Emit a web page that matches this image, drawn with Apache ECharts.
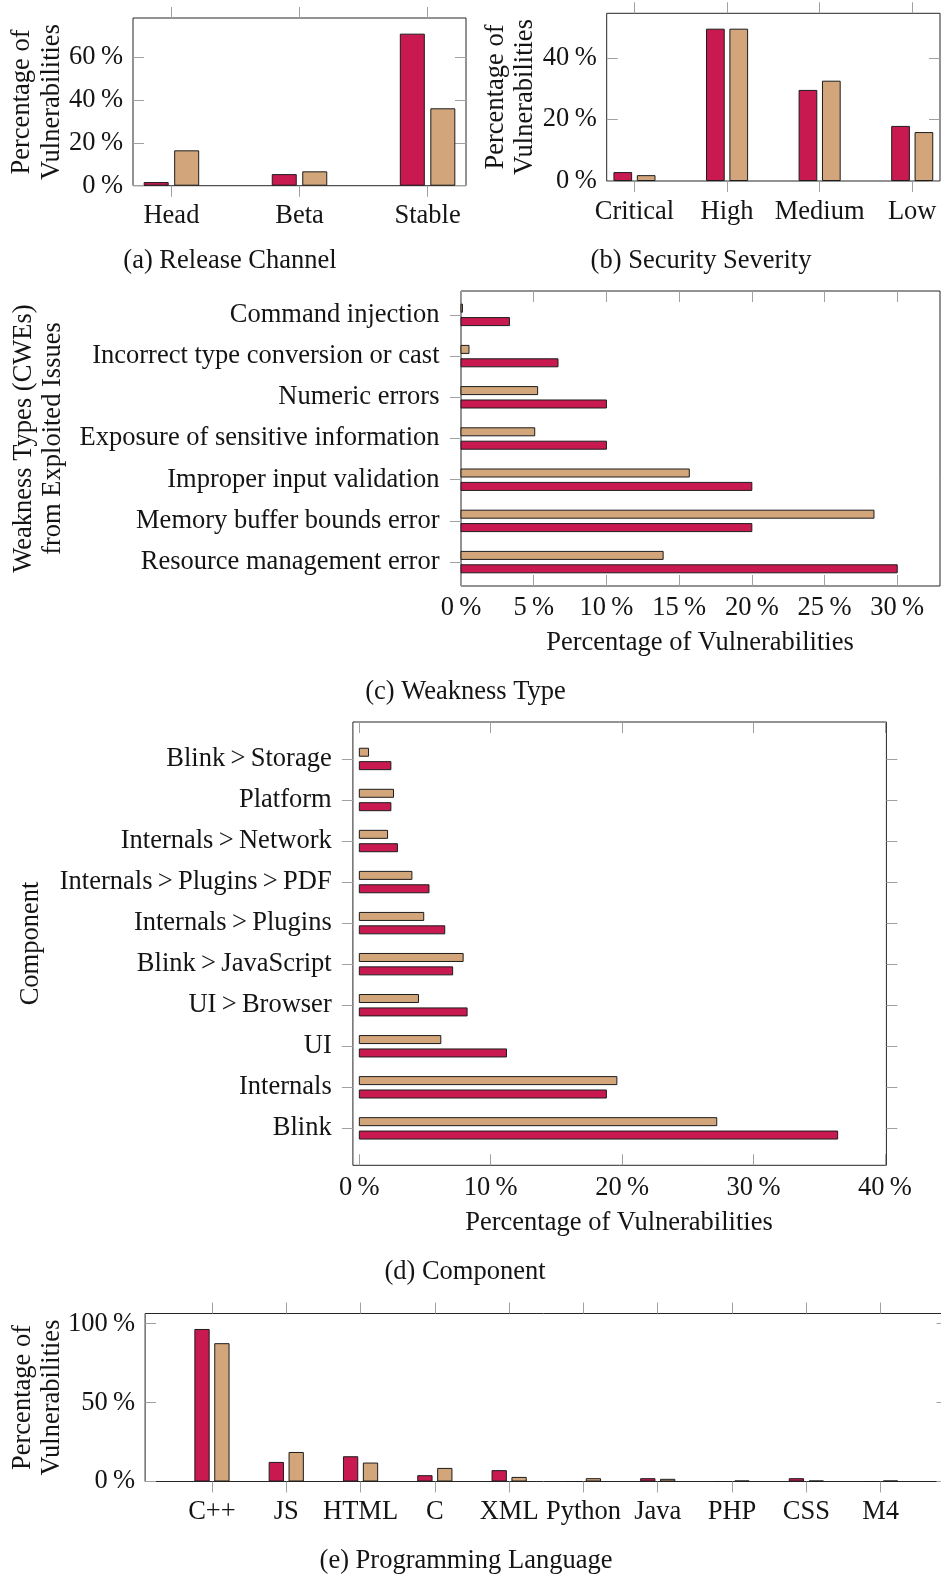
<!DOCTYPE html>
<html>
<head>
<meta charset="utf-8">
<script src="https://cdn.jsdelivr.net/npm/echarts@6/dist/echarts.min.js"></script>
<style>
  html, body { margin: 0; padding: 0; background: #ffffff; }
  #chart { width: 941px; height: 1575px; }
</style>
</head>
<body>
<div id="chart"></div>
<script>
// (a) Release channel
const channelCats = ['Head', 'Beta', 'Stable'];
const channelExploited = [1.7, 5.4, 70.9];
const channelAll = [16.5, 6.7, 36.1];
const channelTicks = [0, 20, 40, 60];

// (b) Security severity
const severityCats = ['Critical', 'High', 'Medium', 'Low'];
const severityExploited = [2.9, 49.5, 29.6, 17.9];
const severityAll = [1.9, 49.5, 32.6, 15.9];
const severityTicks = [0, 20, 40];

// (c) Weakness type, listed bottom to top
const weaknessCats = ['Resource management error', 'Memory buffer bounds error', 'Improper input validation',
  'Exposure of sensitive information', 'Numeric errors', 'Incorrect type conversion or cast', 'Command injection'];
const weaknessExploited = [30, 20, 20, 10, 10, 6.67, 3.33];
const weaknessAll = [13.9, 28.4, 15.7, 5.07, 5.27, 0.55, 0.1];
const weaknessTicks = [0, 5, 10, 15, 20, 25, 30];

// (d) Component, listed bottom to top
const componentCats = ['Blink', 'Internals', 'UI', 'UI>Browser', 'Blink>JavaScript', 'Internals>Plugins',
  'Internals>Plugins>PDF', 'Internals>Network', 'Platform', 'Blink>Storage'];
const componentExploited = [36.4, 18.8, 11.2, 8.2, 7.1, 6.5, 5.3, 2.9, 2.4, 2.4];
const componentAll = [27.2, 19.6, 6.2, 4.5, 7.9, 4.9, 4.0, 2.15, 2.6, 0.7];
const componentTicks = [0, 10, 20, 30, 40];

// (e) Programming language
const languageCats = ['C++', 'JS', 'HTML', 'C', 'XML', 'Python', 'Java', 'PHP', 'CSS', 'M4'];
const languageExploited = [96.6, 12.4, 16.0, 4.0, 7.2, 0, 2.1, 0, 2.1, 0];
const languageAll = [87.6, 18.7, 12.0, 8.6, 2.9, 2.1, 1.7, 0.6, 0.6, 0.6];
const languageTicks = [0, 50, 100];

const RED = '#C81A50';
const TAN = '#D2A67A';
const EDGE = '#1c1c1c';
const FRAME = '#262626';
const TICK = '#a0a0a0';
const TXT = '#141414';
const FONT = 'Liberation Serif';
const SIZE = 26.5;

const pct = v => v + '\u2009%';
const indices = arr => arr.map((_, i) => i);
// component paths get a little air around the ">" separator
const namer = cats => v => cats[Math.round(v)].replace(/>/g, '\u2009>\u2009');

const grids = [], xAxes = [], yAxes = [], series = [];

function axisDef(gi, pos, s, withLabels) {
  return {
    type: 'value', gridIndex: gi, position: pos, min: s.min, max: s.max,
    axisLine: { show: false, onZero: false },
    splitLine: { show: false },
    axisTick: { show: true, inside: s.inside, length: 11, customValues: s.ticks,
      lineStyle: { color: TICK, width: 1 } },
    axisLabel: { show: withLabels, customValues: s.ticks, formatter: s.format, margin: s.margin,
      color: TXT, fontFamily: FONT, fontSize: SIZE, padding: [s.drop || 0, 0, 0, 0] },
    axisPointer: { show: false }
  };
}

function addPanel(box, xs, ys) {
  const gi = grids.length;
  grids.push({ left: box[0], top: box[1], width: box[2], height: box[3], show: true,
    borderColor: FRAME, borderWidth: 1, backgroundColor: 'transparent',
    containLabel: false, outerBoundsMode: 'none' });
  xAxes.push(axisDef(gi, 'bottom', xs, true));
  xAxes.push(axisDef(gi, 'top', xs, false));
  yAxes.push(axisDef(gi, 'left', ys, true));
  yAxes.push(axisDef(gi, 'right', ys, false));
  return gi;
}

// vertical bars: category position on x, value on y
function vbars(gi, values, color, width, gap) {
  return { type: 'bar', xAxisIndex: gi * 2, yAxisIndex: gi * 2,
    data: values.map((v, i) => [i, v]), barWidth: width, barGap: gap,
    itemStyle: { color: color, borderColor: EDGE, borderWidth: 1 }, silent: true };
}

// horizontal bars: value on x, category position on y, shifted by a pixel offset
function hbars(gi, values, color, offset) {
  return { type: 'custom', xAxisIndex: gi * 2, yAxisIndex: gi * 2,
    data: values.map((v, i) => [v, i]), encode: { x: 0, y: 1 }, silent: true,
    renderItem: (params, api) => {
      const a = api.coord([0, api.value(1)]);
      const b = api.coord([api.value(0), api.value(1)]);
      return { type: 'rect',
        shape: { x: a[0], y: a[1] + offset - 4, width: b[0] - a[0], height: 8 },
        style: { fill: color, stroke: EDGE, lineWidth: 1 } };
    } };
}

// (a)
let g = addPanel([133, 18, 333, 167.7],
  { min: -0.3, max: 2.3, ticks: indices(channelCats), format: namer(channelCats), inside: false, margin: 16.5 },
  { min: 0, max: 78.2, ticks: channelTicks, format: pct, inside: true, margin: 10, drop: 8 });
series.push(vbars(g, channelExploited, RED, 25, '22%'), vbars(g, channelAll, TAN, 25, '22%'));

// (b)
g = addPanel([606.7, 13.3, 333.3, 167.7],
  { min: -0.3, max: 3.3, ticks: indices(severityCats), format: namer(severityCats), inside: false, margin: 18 },
  { min: 0, max: 54.5, ticks: severityTicks, format: pct, inside: true, margin: 10, drop: 8 });
series.push(vbars(g, severityExploited, RED, 18.7, '25%'), vbars(g, severityAll, TAN, 18.7, '25%'));

// (c)
g = addPanel([461, 291, 479, 295],
  { min: 0, max: 32.94, ticks: weaknessTicks, format: pct, inside: true, margin: 9 },
  { min: -0.58, max: 6.58, ticks: indices(weaknessCats), format: namer(weaknessCats), inside: false, margin: 21.5, drop: 4 });
series.push(hbars(g, weaknessExploited, RED, 6.7), hbars(g, weaknessAll, TAN, -6.7));

// (d)
g = addPanel([352.9, 722, 533.5, 443.3],
  { min: -0.49, max: 40.11, ticks: componentTicks, format: pct, inside: true, margin: 9 },
  { min: -0.9, max: 9.9, ticks: indices(componentCats), format: namer(componentCats), inside: false, margin: 21.2, drop: 4 });
series.push(hbars(g, componentExploited, RED, 6.7), hbars(g, componentAll, TAN, -6.7));

// (e)
g = addPanel([145.1, 1313.5, 802.4, 168],
  { min: -0.9, max: 9.9, ticks: indices(languageCats), format: namer(languageCats), inside: false, margin: 17.5 },
  { min: 0, max: 106.4, ticks: languageTicks, format: pct, inside: true, margin: 10, drop: 8 });
series.push(vbars(g, languageExploited, RED, 15.3, '30%'), vbars(g, languageAll, TAN, 15.3, '30%'));

function text(str, x, y, rotated) {
  return { type: 'text', x: x, y: y, rotation: rotated ? Math.PI / 2 : 0, silent: true,
    style: { text: str, fill: TXT, font: SIZE + 'px "' + FONT + '"',
      align: 'center', verticalAlign: 'middle', textAlign: 'center', textVerticalAlign: 'middle' } };
}

const graphics = [
  text('Percentage of', 22.5, 102, true), text('Vulnerabilities', 52.5, 102, true),
  text('Percentage of', 496.5, 97, true), text('Vulnerabilities', 525, 97, true),
  text('Weakness Types (CWEs)', 24.5, 438.5, true), text('from Exploited Issues', 53.5, 438.5, true),
  text('Percentage of Vulnerabilities', 700, 643, false),
  text('Component', 31.5, 943.5, true),
  text('Percentage of Vulnerabilities', 619, 1223, false),
  text('Percentage of', 23.5, 1397.5, true), text('Vulnerabilities', 52, 1397.5, true),
  text('(a) Release Channel', 230, 261, false),
  text('(b) Security Severity', 701, 261.5, false),
  text('(c) Weakness Type', 465.5, 692, false),
  text('(d) Component', 465, 1272, false),
  text('(e) Programming Language', 466, 1561, false)
];

const chart = echarts.init(document.getElementById('chart'), null, { renderer: 'canvas' });
chart.setOption({
  animation: false,
  backgroundColor: '#ffffff',
  grid: grids,
  xAxis: xAxes,
  yAxis: yAxes,
  series: series,
  graphic: graphics
});
</script>
</body>
</html>
